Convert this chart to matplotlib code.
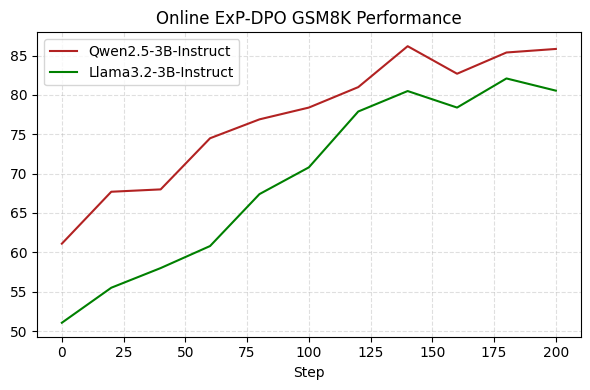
import matplotlib.pyplot as plt

steps = [0, 20, 40, 60, 80, 100, 120, 140, 160, 180, 200]
qwen = [61.1, 67.7, 68.0, 74.5, 76.9, 78.4, 81.0, 86.2, 82.7, 85.4, 85.85]
llama = [51.05, 55.5, 58.0, 60.8, 67.4, 70.8, 77.9, 80.5, 78.4, 82.1, 80.55]

plt.figure(figsize=(5.9, 3.9), dpi=100)
plt.plot(steps, qwen, color='firebrick', label='Qwen2.5-3B-Instruct')
plt.plot(steps, llama, color='green', label='Llama3.2-3B-Instruct')

plt.title('Online ExP-DPO GSM8K Performance')
plt.xlabel('Step')
plt.legend(loc='upper left')
plt.grid(True, linestyle='--', alpha=0.4)
plt.subplots_adjust(left=0.063, right=0.984, top=0.917, bottom=0.137)
plt.savefig('out.png')
